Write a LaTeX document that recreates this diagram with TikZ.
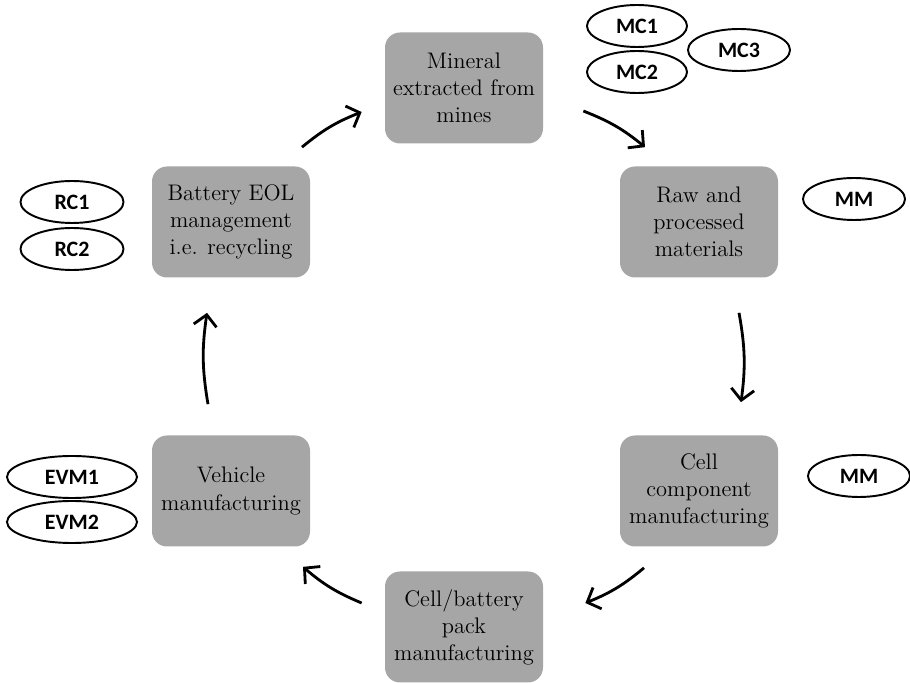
\documentclass[tikz,border=0pt]{standalone}
\usepackage{fontspec}
\newfontfamily\labelfont{Carlito}
\usepackage{tikz}
\usetikzlibrary{arrows.meta}
\usetikzlibrary{shapes.geometric}

\definecolor{boxgray}{RGB}{166,166,166}

\tikzset{
		stage/.style={fill=boxgray, rounded corners=0.3cm, minimum width=3.16cm, minimum height=2.22cm,
				inner sep=0pt, align=center, font=\fontsize{12.8}{15.4}\selectfont},
		actor/.style={draw, ellipse, line width=1.1pt, minimum height=0.84cm, inner sep=0pt,
				font=\labelfont\bfseries\fontsize{12.5}{14}\selectfont},
		flow/.style={line width=1.6pt, -{Straight Barb[length=2.2mm,width=4.6mm]}, bend left=9}
}

\begin{document}
\begin{tikzpicture}
		\useasboundingbox (0,0) rectangle (18.2,-13.66);
		% stages of the cycle
		\node[stage] (mine) at (9.28,-1.76) {Mineral\\extracted from\\mines};
		\node[stage] (raw) at (13.98,-4.44) {Raw and\\processed\\materials};
		\node[stage] (comp) at (13.98,-9.82) {Cell\\component\\manufacturing};
		\node[stage] (pack) at (9.28,-12.54) {Cell/battery\\pack\\manufacturing};
		\node[stage] (veh) at (4.62,-9.82) {Vehicle\\manufacturing};
		\node[stage] (eol) at (4.62,-4.44) {Battery EOL\\management\\i.e. recycling};
		% actors
		\foreach \n/\x/\y/\w/\t in{
				mcone/12.74/-0.52/2.0/MC1,
				mctwo/12.74/-1.44/2.0/MC2,
				mcthree/14.78/-1.0/2.04/MC3,
				mmone/17.08/-3.98/2.04/MM,
				mmtwo/17.18/-9.52/2.04/MM,
				rcone/1.44/-4.04/2.06/RC1,
				rctwo/1.44/-4.98/2.06/RC2,
				evmone/1.44/-9.54/2.6/EVM1,
				evmtwo/1.44/-10.44/2.6/EVM2
		}{
		\node[actor, minimum width=\w cm] (\n) at (\x,\y) {\t};
		}
		% arrows
		\draw[flow] ([shift={(0.8,-0.46)}]mine.east) to ([shift={(-1.08,0.38)}]raw.north);
		\draw[flow] ([shift={(0.8,-0.7)}]raw.south) to ([shift={(0.84,0.66)}]comp.north);
		\draw[flow] ([shift={(-1.1,-0.42)}]comp.south) to ([shift={(0.84,0.48)}]pack.east);
		\draw[flow] ([shift={(-0.46,0.48)}]pack.west) to ([shift={(1.44,-0.4)}]veh.south);
		\draw[flow] ([shift={(-0.46,0.62)}]veh.north) to ([shift={(-0.48,-0.7)}]eol.south);
		\draw[flow] ([shift={(1.42,0.38)}]eol.north) to ([shift={(-0.46,-0.48)}]mine.west);
\end{tikzpicture}
\end{document}
